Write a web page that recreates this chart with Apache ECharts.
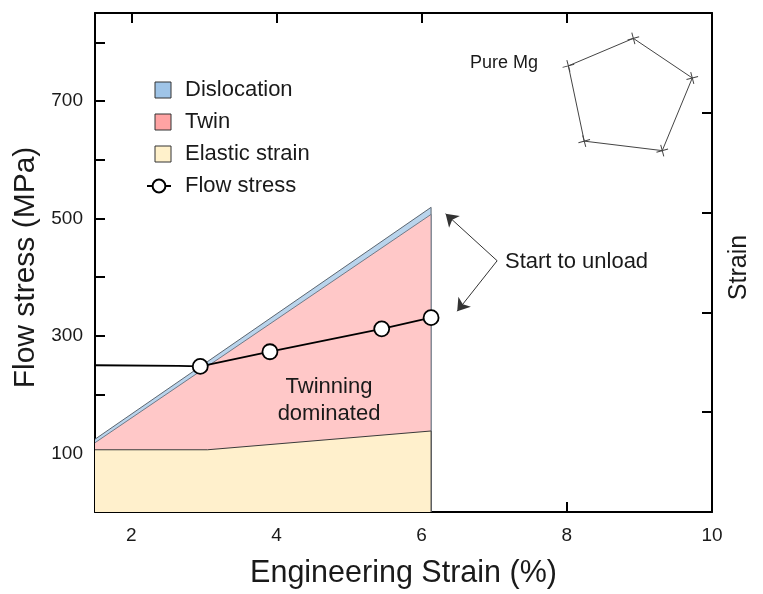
<!DOCTYPE html>
<html>
<head>
<meta charset="utf-8">
<title>Flow stress vs engineering strain</title>
<script src="https://cdn.jsdelivr.net/npm/echarts@6/dist/echarts.min.js"></script>
<style>
  html, body { margin: 0; padding: 0; background: #fff; }
  #chart { width: 763px; height: 594px; }
</style>
</head>
<body>
<div id="chart"></div>
<script>
// Upper boundary of each deformation-mode band (MPa) vs engineering strain (%)
const dislocationTop = [[1.5, 124], [6.13, 519], [6.13, 0]];
const twinTop = [[1.5, 118], [6.13, 507], [6.13, 0]];
const elasticTop = [[1.5, 106], [3.05, 106], [6.13, 138], [6.13, 0]];

// Measured flow stress (MPa); the first two points are the loading path, unmarked
const flowStress = [[1.5, 250], [2.65, 249], [2.95, 248], [3.91, 273], [5.45, 312], [6.13, 331]];
const flowUnmarked = 2;

// Tick values
const strainTicks = [2, 4, 6, 8, 10];
const strainTopTicks = [2, 4, 6, 8];
const stressTicks = [0, 100, 200, 300, 400, 500, 600, 700, 800];
const stressLabels = [100, 300, 500, 700];

// Inset polygon (Pure Mg), five radial values
const pureMgIndicators = ['a', 'b', 'c', 'd', 'e'];
const pureMgValues = [77, 93, 94, 97, 94];

// "Start to unload" arrows: shared tail and the two tips (strain %, MPa)
const unloadTail = [7.04, 428];
const unloadTips = [[6.33, 508], [6.49, 342]];

const FONT = 'Liberation Sans, Arial, sans-serif';
const INK = '#1a1a1a';

const chart = echarts.init(document.getElementById('chart'), null, { renderer: 'canvas' });

const frameLine = { show: true, onZero: false, lineStyle: { color: '#000', width: 2 } };
const innerTick = (vals) => ({ show: true, inside: true, length: 10, customValues: vals, lineStyle: { color: '#000', width: 2 } });

const squareIcon = 'path://M0,0M8,0L24,0L24,16L8,16Z';

const option = {
  animation: false,
  backgroundColor: '#fff',
  textStyle: { fontFamily: FONT },
  grid: { left: 95, right: 51, top: 13, bottom: 81, containLabel: false },
  legend: {
    orient: 'vertical',
    left: 146,
    top: 79,
    padding: 0,
    itemWidth: 24,
    itemHeight: 16,
    itemGap: 10,
    selectedMode: false,
    textStyle: { fontFamily: FONT, fontSize: 22, lineHeight: 22, color: INK, padding: [0, 0, 0, 9] },
    data: [
      { name: 'Dislocation', icon: squareIcon, itemStyle: { color: '#9fc4e7', borderColor: '#333', borderWidth: 1 } },
      { name: 'Twin', icon: squareIcon, itemStyle: { color: '#ffa3a3', borderColor: '#333', borderWidth: 1 } },
      { name: 'Elastic strain', icon: squareIcon, itemStyle: { color: '#fff1cb', borderColor: '#333', borderWidth: 1 } },
      { name: 'Flow stress' }
    ]
  },
  radar: {
    center: [628, 92],
    radius: 70,
    startAngle: 84.3,
    indicator: pureMgIndicators.map(n => ({ name: n, max: 100, min: 0 })),
    axisName: { show: false },
    axisLine: { show: false },
    splitLine: { show: false },
    splitArea: { show: false },
    axisTick: { show: false },
    axisLabel: { show: false }
  },
  xAxis: [
    {
      type: 'value', position: 'bottom', min: 1.5, max: 10,
      axisLine: frameLine,
      axisTick: innerTick(strainTicks),
      axisLabel: { customValues: strainTicks, fontSize: 19, color: INK, margin: 14, fontFamily: FONT },
      splitLine: { show: false },
      name: 'Engineering Strain (%)', nameLocation: 'middle', nameGap: 46,
      nameTextStyle: { fontSize: 30.5, color: INK, fontFamily: FONT }
    },
    {
      type: 'value', position: 'top', min: 1.5, max: 10,
      axisLine: frameLine,
      axisTick: innerTick(strainTopTicks),
      axisLabel: { show: false },
      splitLine: { show: false }
    }
  ],
  yAxis: [
    {
      type: 'value', position: 'left', min: 0, max: 850,
      axisLine: frameLine,
      axisTick: innerTick(stressTicks),
      axisLabel: { customValues: stressLabels, fontSize: 19, color: INK, margin: 12, fontFamily: FONT },
      splitLine: { show: false },
      name: 'Flow stress (MPa)', nameLocation: 'middle', nameGap: 47, nameRotate: 90,
      nameTextStyle: { fontSize: 30, color: INK, fontFamily: FONT, padding: [0, 10, 0, 0] }
    },
    {
      type: 'value', position: 'right', min: 0, max: 5, interval: 1,
      axisLine: frameLine,
      axisTick: { show: true, inside: true, length: 10, lineStyle: { color: '#000', width: 2 } },
      axisLabel: { show: false },
      splitLine: { show: false },
      name: 'Strain', nameLocation: 'middle', nameGap: 15, nameRotate: 90,
      nameTextStyle: { fontSize: 25, color: INK, fontFamily: FONT, padding: [0, 10, 0, 0] }
    }
  ],
  series: [
    {
      name: 'Dislocation', type: 'line', xAxisIndex: 0, yAxisIndex: 0, z: 2,
      data: dislocationTop, showSymbol: false, symbol: 'none',
      lineStyle: { color: '#5d6670', width: 1 },
      areaStyle: { color: '#b9d4ec', opacity: 1 }
    },
    {
      name: 'Twin', type: 'line', xAxisIndex: 0, yAxisIndex: 0, z: 3,
      data: twinTop, showSymbol: false, symbol: 'none',
      lineStyle: { color: '#6f7a88', width: 1 },
      areaStyle: { color: '#ffc8c8', opacity: 1 }
    },
    {
      name: 'Elastic strain', type: 'line', xAxisIndex: 0, yAxisIndex: 0, z: 4,
      data: elasticTop, showSymbol: false, symbol: 'none',
      lineStyle: { color: '#3a3a3a', width: 1 },
      areaStyle: { color: '#fff0cc', opacity: 1 }
    },
    {
      name: 'Flow stress', type: 'line', xAxisIndex: 0, yAxisIndex: 0, z: 6,
      data: flowStress.map((p, i) => i < flowUnmarked ? { value: p, symbol: 'none' } : { value: p }),
      symbol: 'circle', symbolSize: 15, showSymbol: true,
      lineStyle: { color: '#000', width: 1.8 },
      itemStyle: { color: '#fff', borderColor: '#000', borderWidth: 1.8 },
      markLine: {
        silent: true,
        symbol: ['none', 'arrow'],
        symbolSize: 12,
        label: { show: false },
        lineStyle: { color: '#333', width: 1, type: 'solid' },
        data: unloadTips.map(tip => [{ coord: unloadTail }, { coord: tip }])
      }
    },
    {
      name: 'Pure Mg', type: 'radar', z: 5,
      symbol: 'path://M0,6L12,6M6,0L6,12',
      symbolSize: 12,
      symbolRotate: 15,
      itemStyle: { color: 'none', borderColor: '#444', borderWidth: 1 },
      lineStyle: { color: '#444', width: 1 },
      data: [{ value: pureMgValues, name: 'Pure Mg' }]
    }
  ],
  graphic: [
    {
      type: 'text', x: 470, y: 54, z: 10,
      style: { text: 'Pure Mg', font: '18px ' + FONT, fill: INK, textVerticalAlign: 'top' }
    },
    {
      type: 'text', x: 505, y: 251, z: 10,
      style: { text: 'Start to unload', font: '22px ' + FONT, fill: INK }
    },
    {
      type: 'text', x: 329, y: 373, z: 10,
      style: { text: 'Twinning\ndominated', font: '22px ' + FONT, fill: INK, align: 'center', textAlign: 'center', lineHeight: 27 }
    }
  ]
};

chart.setOption(option);
</script>
</body>
</html>
